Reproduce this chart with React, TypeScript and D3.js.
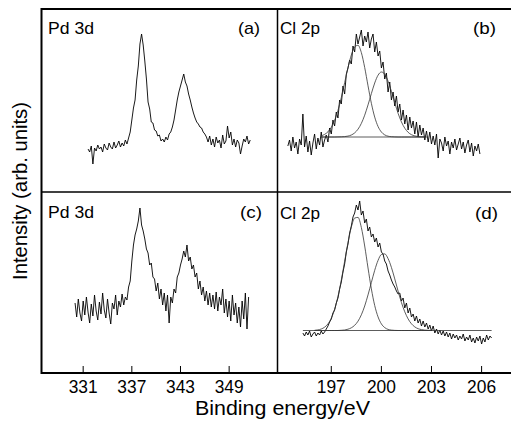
import { scaleLinear, line, curveMonotoneX } from 'd3';

const width = 511;
const height = 423;

// binding energy ticks (eV)
const pdTicks = [331, 337, 343, 349];
const clTicks = [197, 200, 203, 206];

// (a) Pd 3d, grid start / step in eV, intensity in arb. units
const aStart = 331.6;
const aStep = 0.2;
const pd3dA = [
  43, 40, 46, 28, 44, 41, 47, 43, 45, 40, 48, 44, 42, 49, 45, 43, 50, 44, 47, 51,
  45, 49, 46, 52, 48, 54, 60, 72, 84, 92, 112, 126, 148, 158, 147, 131, 113, 90, 83, 70,
  69, 62, 61, 56, 57, 51, 53, 50, 55, 52, 58, 60, 65, 72, 82, 92, 100, 106, 112, 118,
  110, 106, 98, 92, 85, 79, 74, 70, 68, 65, 64, 60, 58, 55, 50, 56, 47, 53, 45, 55,
  49, 52, 44, 57, 48, 51, 66, 54, 60, 47, 53, 45, 52, 49, 38, 46, 53, 50, 56, 48, 52,
];

// (b) Cl 2p
const bStart = 194.4;
const bStep = 0.1;
const cl2pB = [
  46, 52, 41, 55, 44, 50, 38, 53, 47, 78, 45, 56, 40, 51, 37, 49, 58, 43, 54, 47,
  60, 45, 52, 57, 50, 64, 58, 72, 66, 80, 74, 92, 88, 106, 98, 118, 124, 132, 128, 146,
  140, 158, 148, 155, 162, 146, 156, 150, 160, 144, 153, 158, 140, 150, 136, 141, 124, 130, 113, 119,
  100, 110, 92, 100, 86, 96, 80, 88, 72, 82, 68, 77, 62, 75, 64, 71, 58, 70, 55, 67,
  57, 64, 52, 61, 50, 60, 48, 56, 47, 58, 34, 53, 49, 41, 55, 46, 51, 38, 50, 44,
  53, 42, 48, 54, 43, 50, 39, 47, 52, 40, 49, 36, 46, 41, 48, 38,
];
// fitted components for (b)
const fitBStart = 196.4;
const fitBStep = 0.2;
const fitBBase = 55;
const fitBRange = [196.4, 202.8];
const fitB1 = [
  1.2, 2.6, 5.2, 9.7, 16.6, 26.6, 39.4, 54.3, 69.3, 82.0, 90.1, 91.7, 84.4, 69.5, 51.2, 33.7,
  19.9, 10.5, 5.0, 2.1, 0.8, 0.3, 0.1, 0, 0, 0, 0, 0, 0, 0, 0, 0,
];
const fitB2 = [
  0, 0, 0, 0, 0, 0.1, 0.2, 0.4, 0.9, 2.0, 4.1, 7.8, 13.6, 21.8, 32.1, 43.4,
  54.0, 61.8, 65.0, 62.8, 55.8, 45.7, 34.3, 23.7, 15.1, 8.8, 4.7, 2.3, 1.1, 0.4, 0.2, 0.1,
];

// (c) Pd 3d
const cStart = 330.0;
const cStep = 0.2;
const pd3dC = [
  70, 56, 74, 60, 52, 72, 58, 76, 61, 50, 69, 57, 78, 62, 53, 71, 59, 80, 63, 55,
  74, 60, 49, 70, 64, 78, 58, 72, 66, 79, 68, 76, 73, 86, 92, 112, 128, 138, 144, 152,
  165, 148, 142, 134, 124, 120, 108, 110, 96, 94, 82, 90, 74, 84, 68, 80, 62, 78, 50, 76,
  70, 84, 80, 96, 100, 108, 114, 122, 116, 128, 112, 116, 104, 108, 96, 100, 84, 92, 78, 86,
  72, 82, 68, 80, 66, 78, 64, 81, 62, 76, 68, 84, 60, 74, 56, 72, 52, 78, 58, 70,
  50, 66, 46, 72, 54, 80, 44, 76,
];

// (d) Cl 2p
const dStart = 195.3;
const dStep = 0.1;
const cl2pD = [
  40, 37, 41, 38, 42, 36, 39, 41, 37, 40, 38, 42, 39, 41, 44, 47, 51, 54, 60, 63,
  70, 75, 84, 91, 101, 109, 121, 129, 140, 147, 156, 160, 168, 163, 172, 158, 162, 150, 154, 142,
  146, 136, 139, 131, 135, 126, 130, 121, 119, 112, 109, 102, 98, 93, 89, 86, 82, 79, 80, 72,
  75, 65, 70, 60, 65, 56, 59, 52, 57, 50, 54, 47, 52, 46, 50, 44, 48, 42, 47, 40,
  44, 39, 43, 38, 42, 37, 41, 36, 40, 34, 39, 35, 38, 33, 37, 34, 39, 32, 36, 33,
  38, 31, 35, 30, 36, 32, 37, 29, 35, 31, 38, 33, 37, 35,
];
const fitDStart = 196.0;
const fitDStep = 0.2;
const fitDBase = 42.5;
const fitDRange = [195.3, 206.6];
const fitD1 = [
  0.2, 0.6, 1.5, 3.3, 6.6, 12.3, 21.2, 34.0, 50.4, 69.2, 87.8, 103.3, 112.4, 113.1, 103.0, 84.5,
  62.5, 41.6, 25.0, 13.6, 6.6, 2.9, 1.1, 0.4, 0.1, 0, 0, 0, 0, 0, 0, 0, 0, 0, 0, 0,
];
const fitD2 = [
  0, 0, 0, 0, 0, 0, 0, 0, 0.2, 0.5, 1.3, 2.7, 5.2, 9.3, 15.7, 24.5,
  35.6, 48.0, 60.2, 70.1, 76.0, 76.6, 71.9, 63.1, 51.6, 39.4, 28.0, 18.7, 11.6, 6.7, 3.6, 1.8,
  0.9, 0.4, 0.2, 0.1,
];

const font = '"Liberation Sans", Arial, sans-serif';

const xPd = scaleLinear().domain([325.8, 354.9]).range([41, 277]);
const xCl = scaleLinear().domain([193.75, 207.7]).range([277, 510]);
const yTop = scaleLinear().domain([0, 184]).range([192, 8]);
const yBot = scaleLinear().domain([0, 181]).range([373, 192]);

const spectrum = (vals, start, step, x, y, offset = 0, smooth = false) => {
  const l = line<number>()
    .x((_, i) => x(start + i * step))
    .y((v) => y(v + offset));
  if (smooth) l.curve(curveMonotoneX);
  return l(vals) || '';
};

const flat = (range, base, x, y) =>
  line<number>().x((e) => x(e)).y(() => y(base))(range) || '';

const App = () => {
  const label = (t, x, y, w, size = 17, anchor = 'start') => (
    <text x={x} y={y} fontSize={size} textAnchor={anchor} textLength={w} lengthAdjust="spacingAndGlyphs">
      {t}
    </text>
  );
  return (
    <svg width={width} height={height} style={{ position: 'absolute', left: 0, top: 0, background: '#fff' }} fontFamily={font}>
      {/* spectra */}
      <g fill="none" stroke="#000" strokeWidth={0.9} strokeLinejoin="round">
        <path d={spectrum(pd3dA, aStart, aStep, xPd, yTop)} />
        <path d={spectrum(cl2pB, bStart, bStep, xCl, yTop)} />
        <path d={spectrum(pd3dC, cStart, cStep, xPd, yBot)} />
        <path d={spectrum(cl2pD, dStart, dStep, xCl, yBot)} />
      </g>
      {/* fitted components */}
      <g fill="none" stroke="#333" strokeWidth={0.8}>
        <path d={flat(fitBRange, fitBBase, xCl, yTop)} />
        <path d={spectrum(fitB1, fitBStart, fitBStep, xCl, yTop, fitBBase, true)} />
        <path d={spectrum(fitB2, fitBStart, fitBStep, xCl, yTop, fitBBase, true)} />
        <path d={flat(fitDRange, fitDBase, xCl, yBot)} />
        <path d={spectrum(fitD1, fitDStart, fitDStep, xCl, yBot, fitDBase, true)} />
        <path d={spectrum(fitD2, fitDStart, fitDStep, xCl, yBot, fitDBase, true)} />
      </g>
      {/* frame */}
      <g stroke="#000" fill="none">
        <line x1={41} x2={511} y1={9} y2={9} strokeWidth={2} />
        <line x1={41} x2={511} y1={373} y2={373} strokeWidth={2} />
        <line x1={41.5} x2={41.5} y1={8} y2={374} strokeWidth={2} />
        <line x1={41} x2={511} y1={192} y2={192} strokeWidth={1.5} />
        <line x1={277.5} x2={277.5} y1={8} y2={374} strokeWidth={1.5} />
        {pdTicks.map((t) => (
          <line key={'p' + t} x1={xPd(t)} x2={xPd(t)} y1={373} y2={366} strokeWidth={1} />
        ))}
        {clTicks.map((t) => (
          <line key={'c' + t} x1={xCl(t)} x2={xCl(t)} y1={373} y2={366} strokeWidth={1} />
        ))}
      </g>
      {/* tick labels */}
      {pdTicks.map((t) => <g key={'pl' + t}>{label(String(t), xPd(t), 393, 29, 18, 'middle')}</g>)}
      {clTicks.map((t) => <g key={'cl' + t}>{label(String(t), xCl(t), 393, 29, 18, 'middle')}</g>)}
      {label('Binding energy/eV', 282.5, 415, 175, 21, 'middle')}
      <text transform="translate(27,191) rotate(-90)" fontSize={20} textAnchor="middle" textLength={178} lengthAdjust="spacingAndGlyphs">
        Intensity (arb. units)
      </text>
      {/* panel labels */}
      {label('Pd 3d', 48, 34, 46)}
      {label('(a)', 238, 34, 22)}
      {label('Cl 2p', 280, 34, 40)}
      {label('(b)', 473, 34, 23)}
      {label('Pd 3d', 48, 218, 46)}
      {label('(c)', 240, 218, 22)}
      {label('Cl 2p', 280, 219, 40)}
      {label('(d)', 475, 219, 23)}
    </svg>
  );
};

export default App;
